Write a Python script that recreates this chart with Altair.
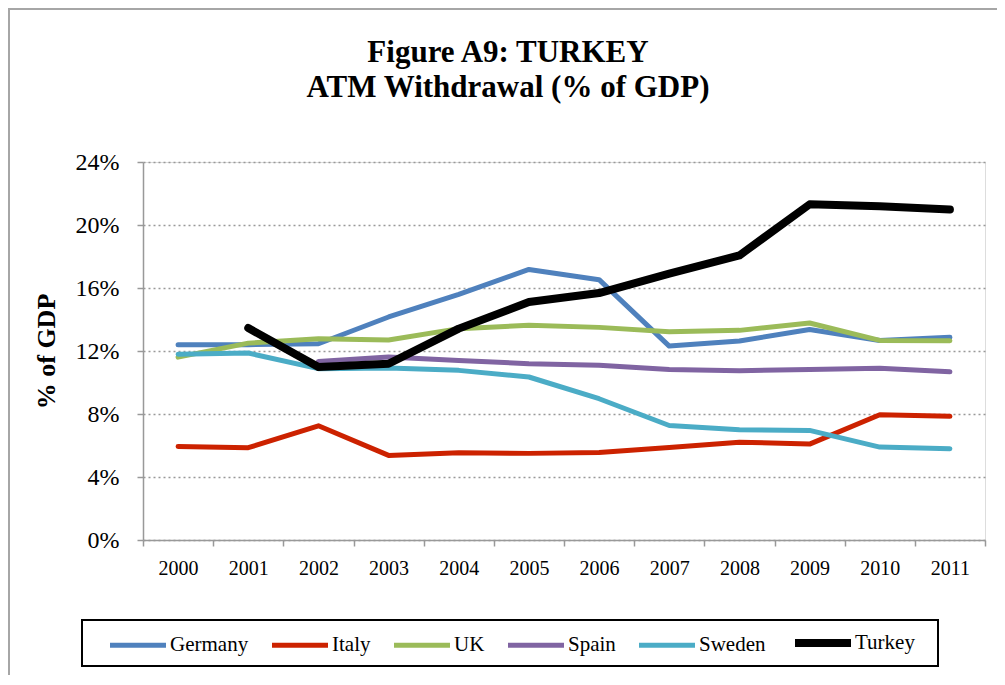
import altair as alt
import pandas as pd

years = [str(y) for y in range(2000, 2012)]
series_names = ["Germany", "Italy", "UK", "Spain", "Sweden", "Turkey"]
colors = ["#4F81BD", "#CC2200", "#9BBB59", "#8064A2", "#4BACC6", "#000000"]
widths = [5, 5, 5, 5, 5, 8]
title_lines = ["Figure A9: TURKEY", "ATM Withdrawal (% of GDP)"]

germany = [12.40, 12.40, 12.46, 14.16, 15.60, 17.18, 16.53, 12.31, 12.63, 13.37, 12.67, 12.87]
italy = [5.94, 5.86, 7.25, 5.37, 5.54, 5.50, 5.56, 5.88, 6.21, 6.09, 7.95, 7.85]
uk = [11.61, 12.50, 12.78, 12.70, 13.42, 13.63, 13.50, 13.22, 13.31, 13.78, 12.67, 12.65]
spain = [None, None, 11.34, 11.62, 11.40, 11.19, 11.09, 10.83, 10.75, 10.83, 10.90, 10.68]
sweden = [11.79, 11.87, 10.88, 10.92, 10.77, 10.35, 8.97, 7.27, 7.00, 6.96, 5.90, 5.79]
turkey = [None, 13.46, 10.98, 11.19, 13.42, 15.11, 15.68, 16.91, 18.07, 21.31, 21.19, 20.98]

y_ticks = [0, 0.04, 0.08, 0.12, 0.16, 0.20, 0.24]

rows = []
for name, vals in zip(series_names, [germany, italy, uk, spain, sweden, turkey]):
    for yr, v in zip(years, vals):
        if v is not None:
            rows.append({"Year": yr, "Country": name, "Value": v / 100.0})
df = pd.DataFrame(rows)

FONT = "Liberation Serif"

lines = alt.Chart(df).mark_line(strokeCap="round", strokeJoin="round").encode(
    x=alt.X("Year:N", sort=years,
            scale=alt.Scale(paddingInner=0, paddingOuter=0),
            axis=alt.Axis(title=None, labelAngle=0, tickBand="extent",
                          labelFontSize=20, labelPadding=12, tickSize=6,
                          domainColor="#999999", tickColor="#999999",
                          domainWidth=1.5, tickWidth=1.5, grid=False)),
    y=alt.Y("Value:Q", scale=alt.Scale(domain=[0, 0.24], nice=False),
            axis=alt.Axis(title="% of GDP", format=".0%", values=y_ticks,
                          labelFontSize=24, labelPadding=18, tickSize=6,
                          domainColor="#999999", tickColor="#999999",
                          domainWidth=1.5, tickWidth=1.5,
                          grid=True, gridColor="#999999", gridDash=[2, 3],
                          gridWidth=1.5,
                          titleFontSize=26, titleFontWeight="bold",
                          titleX=-97, titleY=189, titleAngle=-90,
                          titleAlign="center", titleBaseline="middle")),
    color=alt.Color("Country:N", sort=series_names,
                    scale=alt.Scale(domain=series_names, range=colors),
                    legend=alt.Legend(title=None, orient="none", direction="horizontal",
                                      columns=6, legendX=-37, legendY=449,
                                      symbolType="stroke", symbolSize=3136,
                                      labelFontSize=21, labelFont=FONT,
                                      labelOffset=0, columnPadding=13,
                                      labelColor="black", padding=0)),
    strokeWidth=alt.StrokeWidth("Country:N", sort=series_names,
                                scale=alt.Scale(type="ordinal", domain=series_names, range=widths),
                                legend=None),
)

box_df = pd.DataFrame({"k": [0]})
legend_box = alt.Chart(box_df).mark_rect(fill="white", stroke="black", strokeWidth=2).encode(
    x=alt.value(-61), x2=alt.value(795), y=alt.value(458), y2=alt.value(504)
)
frame = alt.Chart(box_df).mark_rect(fill=None, stroke="#A6A6A6", strokeWidth=2, clip=False).encode(
    x=alt.value(-134), x2=alt.value(1000), y=alt.value(-153), y2=alt.value(700)
)

title_df1 = pd.DataFrame({"t": [title_lines[0]]})
title_df2 = pd.DataFrame({"t": [title_lines[1]]})
title1 = alt.Chart(title_df1).mark_text(
    font=FONT, fontSize=31, fontWeight="bold", color="black",
    align="center", baseline="alphabetic"
).encode(text="t:N", x=alt.value(365), y=alt.value(-100))
title2 = alt.Chart(title_df2).mark_text(
    font=FONT, fontSize=31, fontWeight="bold", color="black",
    align="center", baseline="alphabetic"
).encode(text="t:N", x=alt.value(365), y=alt.value(-65))

chart = alt.layer(frame, legend_box, title1, title2, lines).properties(
    width=842, height=378,
    autosize=alt.AutoSizeParams(type="none"),
    padding={"left": 135, "top": 154, "right": 12, "bottom": 135},
).configure_view(stroke=None).configure(
    font=FONT
).configure_axis(
    labelFont=FONT, titleFont=FONT, labelColor="black", titleColor="black"
)

chart.save("out.html", embed_options={"renderer": "svg", "actions": False})
